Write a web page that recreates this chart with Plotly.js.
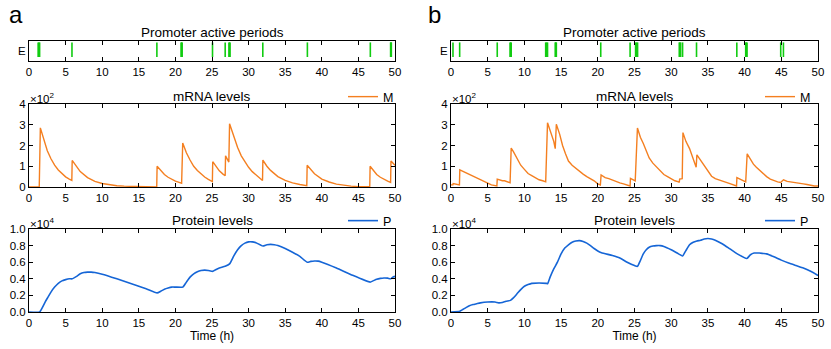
<!DOCTYPE html>
<html>
<head>
<meta charset="utf-8">
<script src="https://cdn.plot.ly/plotly-3.0.1.min.js"></script>
<style>
  html, body { margin: 0; padding: 0; background: #fff; }
  #plot { width: 831px; height: 349px; }
</style>
</head>
<body>
<div id="plot"></div>
<script>
  // --- promoter active periods (start, end of each burst, hours) ---
  const eventsA_start = [1.25, 5.87, 17.47, 20.78, 25.07, 26.8, 27.32, 31.94, 38.03, 46.63, 49.4];
  const eventsA_end   = [1.45, 5.87, 17.47, 20.92, 25.07, 26.8, 27.46, 31.94, 38.03, 46.63, 49.5];
  const eventsB_start = [0.27, 1.18, 6.3, 8.05, 12.9, 14.2, 20.4, 24.4, 25.15, 31.1, 31.55, 33.45, 38.94, 40.15, 44.92, 45.29];
  const eventsB_end   = [0.27, 1.18, 6.3, 8.2, 13.15, 14.35, 20.4, 24.4, 25.42, 31.28, 31.55, 33.45, 38.94, 40.33, 44.92, 45.29];

  // --- mRNA (x10^2) ---
  const tMA = [0, 1.4, 1.55, 2, 2.5, 3, 3.5, 4, 4.5, 5, 5.5, 5.85, 5.9, 6.5, 7, 8, 9, 10, 11, 12, 13, 15, 17.45,
    17.5, 18, 18.5, 19, 19.5, 20, 20.5, 20.85, 21.0, 21.5, 22, 22.5, 23, 23.5, 24, 24.5, 25.05,
    25.1, 25.5, 26, 26.5, 26.8, 26.85, 27.3, 27.4, 28, 28.5, 29, 29.5, 30, 30.5, 31, 31.5, 31.9,
    31.95, 32.5, 33, 34, 35, 36, 37, 37.95, 38.0, 38.5, 39, 40, 41, 42, 43, 44, 45, 46.55,
    46.6, 47, 47.5, 48, 48.5, 49, 49.4, 49.45, 50];
  const mA = [0, 0, 2.85, 2.3, 1.75, 1.36, 1.05, 0.82, 0.63, 0.49, 0.38, 0.32, 1.28, 0.95, 0.74, 0.45, 0.27, 0.17, 0.10, 0.06, 0.04, 0.01, 0,
    1.0, 0.78, 0.6, 0.47, 0.37, 0.28, 0.22, 0.18, 2.12, 1.65, 1.3, 1.0, 0.8, 0.62, 0.48, 0.37, 0.26,
    1.22, 1.0, 0.78, 0.62, 0.54, 1.5, 1.2, 3.05, 2.4, 1.9, 1.5, 1.2, 0.95, 0.74, 0.58, 0.42, 0.31,
    1.3, 1.0, 0.8, 0.5, 0.32, 0.2, 0.12, 0.06, 1.05, 0.82, 0.64, 0.38, 0.24, 0.14, 0.08, 0.04, 0.02, 0.01,
    1.0, 0.8, 0.6, 0.47, 0.36, 0.28, 0.22, 1.25, 1.05];

  const tMB = [0, 0.25, 0.3, 1.15, 1.2, 1.5, 2, 2.5, 3, 3.5, 4, 4.5, 5, 5.5, 6.25, 6.3, 7, 7.3, 8.05, 8.2, 8.5, 9, 9.5, 10,
    10.5, 11, 11.5, 12, 12.5, 12.9, 13.15, 13.5, 14, 14.2, 14.35, 14.8, 15.2, 15.6, 16, 16.5, 17, 17.5, 18, 18.5,
    19, 19.5, 20, 20.35, 20.45, 21, 21.5, 22, 22.5, 23, 23.5, 24, 24.4, 24.45, 25.1, 25.4, 25.8, 26.2, 26.6, 27,
    27.5, 28, 28.5, 29, 29.5, 30, 30.5, 31, 31.1, 31.15, 31.5, 31.6, 32, 32.5, 33, 33.4, 33.5, 34, 34.5, 35,
    35.5, 36, 36.5, 37, 37.5, 38, 38.5, 38.9, 38.95, 39.5, 40.15, 40.35, 40.8, 41.2, 41.6, 42, 42.5, 43, 43.5,
    44, 44.5, 44.9, 45.3, 45.8, 46.5, 47, 47.5, 48, 48.5, 49, 49.5, 50];
  const mB = [0.1, 0.1, 0.17, 0.1, 0.83, 0.78, 0.68, 0.6, 0.5, 0.42, 0.33, 0.26, 0.18, 0.1, 0.05, 0.38, 0.3, 0.3, 0.2, 1.88, 1.7, 1.35, 1.05, 0.85,
    0.65, 0.55, 0.45, 0.35, 0.3, 0.25, 3.1, 2.75, 2.2, 1.85, 3.02, 2.55, 2.0, 1.6, 1.25, 1.05, 0.9, 0.75, 0.62, 0.5,
    0.4, 0.3, 0.15, 0.1, 0.58, 0.45, 0.4, 0.33, 0.25, 0.2, 0.15, 0.08, 0.05, 0.42, 0.3, 2.84, 2.4, 2.1, 1.75, 1.4,
    1.15, 0.95, 0.75, 0.6, 0.5, 0.38, 0.3, 0.25, 0.22, 0.38, 0.4, 2.62, 2.2, 1.85, 1.35, 0.95, 1.55, 1.3, 1.0, 0.75,
    0.52, 0.4, 0.33, 0.28, 0.22, 0.16, 0.1, 0.05, 0.45, 0.35, 0.25, 1.6, 1.3, 1.1, 0.95, 0.82, 0.65, 0.5, 0.38,
    0.3, 0.25, 0.22, 0.35, 0.27, 0.22, 0.2, 0.18, 0.15, 0.12, 0.08, 0.05, 0.05];

  // --- protein (x10^4) ---
  const tPA = [0, 1.45, 1.8, 2.2, 2.6, 3, 3.5, 4, 4.5, 5, 5.5, 5.9, 6.5, 7, 7.5, 8, 8.5, 9, 10, 12, 14, 16, 17.5,
    18, 18.5, 19, 19.5, 20, 21, 21.5, 22, 22.5, 23, 23.5, 24, 24.5, 25.1, 25.5, 26, 26.8, 27.4, 28, 28.5, 29,
    29.5, 30, 30.5, 31, 31.95, 32.5, 33, 33.5, 34, 35, 36, 37, 38, 38.5, 39, 39.5, 40, 42, 44, 46.6, 47, 47.5,
    48, 48.5, 49, 49.4, 49.7, 50];
  const pA = [0, 0, 0.05, 0.12, 0.18, 0.24, 0.3, 0.345, 0.375, 0.39, 0.4, 0.4, 0.43, 0.46, 0.475, 0.48, 0.48, 0.475, 0.455, 0.4, 0.34, 0.28, 0.23,
    0.25, 0.275, 0.29, 0.3, 0.3, 0.3, 0.36, 0.42, 0.46, 0.485, 0.5, 0.505, 0.5, 0.49, 0.51, 0.53, 0.55, 0.58, 0.68, 0.75, 0.8,
    0.83, 0.845, 0.845, 0.835, 0.795, 0.81, 0.815, 0.81, 0.8, 0.765, 0.72, 0.67, 0.6, 0.61, 0.615, 0.613, 0.6, 0.53, 0.45, 0.36, 0.375, 0.395,
    0.405, 0.41, 0.408, 0.4, 0.42, 0.43];

  const tPB = [0, 1.2, 1.6, 2, 2.5, 3, 3.5, 4, 5, 6, 6.5, 7, 7.5, 8.1, 8.5, 9, 9.5, 10, 10.5, 11, 12, 13, 13.15, 13.5,
    14, 14.5, 15, 15.5, 16, 16.5, 17, 17.5, 18, 18.5, 19, 19.5, 20, 20.5, 22, 23, 24, 25, 25.4, 25.8, 26.2, 26.6,
    27, 27.5, 28, 28.5, 29, 30, 31, 31.55, 32, 32.5, 33, 33.5, 34, 34.5, 35, 35.5, 36, 37, 38, 39, 40.3, 40.8,
    41.3, 42, 42.5, 43, 44, 45, 46, 47, 48, 49, 50];
  const pB = [0, 0.01, 0.03, 0.05, 0.075, 0.09, 0.1, 0.11, 0.12, 0.12, 0.11, 0.115, 0.13, 0.14, 0.17, 0.22, 0.27, 0.31, 0.33, 0.345, 0.35, 0.345, 0.34, 0.42,
    0.52, 0.6, 0.7, 0.77, 0.81, 0.84, 0.855, 0.86, 0.85, 0.83, 0.8, 0.765, 0.735, 0.715, 0.68, 0.65, 0.6, 0.56, 0.55, 0.62, 0.7, 0.75,
    0.78, 0.795, 0.8, 0.8, 0.79, 0.75, 0.7, 0.675, 0.74, 0.81, 0.84, 0.855, 0.865, 0.88, 0.885, 0.88, 0.865, 0.82, 0.76, 0.7, 0.645, 0.69,
    0.71, 0.71, 0.705, 0.7, 0.665, 0.625, 0.59, 0.56, 0.53, 0.49, 0.44];

  const xTicks = [0, 5, 10, 15, 20, 25, 30, 35, 40, 45, 50];
  const mTicks = [0, 1, 2, 3, 4];
  const pTicks = [0, 0.2, 0.4, 0.6, 0.8, 1.0];

  const GREEN = '#11cc11', ORANGE = '#f47f20', BLUE = '#1565d6';
  const FONT = 'Liberation Sans, Arial, Helvetica, sans-serif';

  // vertical segments for each promoter burst (start and end edges)
  function eventLines(starts, ends) {
    const x = [], y = [];
    starts.forEach((s, i) => {
      x.push(s, s, null); y.push(0.2, 0.93, null);
      if (ends[i] !== s) {
        for (let k = 1; k <= 2; k++) {
          const e = s + (ends[i] - s) * k / 2;
          x.push(e, e, null); y.push(0.2, 0.93, null);
        }
      }
    });
    return {x, y};
  }
  const evA = eventLines(eventsA_start, eventsA_end);
  const evB = eventLines(eventsB_start, eventsB_end);

  const traces = [
    { x: evA.x, y: evA.y, xaxis: 'x', yaxis: 'y', mode: 'lines', line: {color: GREEN, width: 1.6}, showlegend: false },
    { x: tMA, y: mA, xaxis: 'x2', yaxis: 'y2', mode: 'lines', name: 'M', line: {color: ORANGE, width: 1.4}, legend: 'legend' },
    { x: tPA, y: pA, xaxis: 'x3', yaxis: 'y3', mode: 'lines', name: 'P', line: {color: BLUE, width: 1.6, shape: 'spline', smoothing: 0.5}, legend: 'legend2' },
    { x: evB.x, y: evB.y, xaxis: 'x4', yaxis: 'y4', mode: 'lines', line: {color: GREEN, width: 1.6}, showlegend: false },
    { x: tMB, y: mB, xaxis: 'x5', yaxis: 'y5', mode: 'lines', name: 'M', line: {color: ORANGE, width: 1.4}, legend: 'legend3' },
    { x: tPB, y: pB, xaxis: 'x6', yaxis: 'y6', mode: 'lines', name: 'P', line: {color: BLUE, width: 1.6, shape: 'spline', smoothing: 0.5}, legend: 'legend4' },
  ];

  const W = 831, H = 349;
  const colA = [29 / W, 395 / W], colB = [451 / W, 818 / W];
  const rowE = [1 - 61 / H, 1 - 41 / H], rowM = [1 - 187 / H, 1 - 104 / H], rowP = [1 - 312 / H, 1 - 229 / H];

  function xax(domain, anchor, title) {
    const a = {
      domain, anchor, range: [0, 50], tickvals: xTicks, ticks: 'inside', ticklen: 4, tickcolor: '#000',
      showline: true, linecolor: '#000', linewidth: 1, mirror: 'ticks', showgrid: false, zeroline: false,
      tickfont: {size: 11.5, color: '#000'}, fixedrange: true,
    };
    if (title) a.title = {text: title, font: {size: 12, color: '#000'}, standoff: 3};
    return a;
  }
  function yax(domain, anchor, range, vals, text) {
    return {
      domain, anchor, range, tickvals: vals, ticktext: text, ticks: text ? '' : 'inside', ticklen: 4, tickcolor: '#000',
      showline: true, linecolor: '#000', linewidth: 1, mirror: text ? true : 'ticks', showgrid: false, zeroline: false,
      tickfont: {size: 11.5, color: '#000'}, fixedrange: true,
    };
  }
  const pLabels = pTicks.map(v => v.toFixed(1));

  function title(text, col, yPx) {
    return { text, x: (col[0] + col[1]) / 2, y: 1 - yPx / H, xref: 'paper', yref: 'paper', showarrow: false,
      font: {size: 13.5, color: '#000'}, xanchor: 'center', yanchor: 'middle' };
  }
  function expo(text, xPx, yPx) {
    return { text, x: xPx / W, y: 1 - yPx / H, xref: 'paper', yref: 'paper', showarrow: false,
      font: {size: 11.5, color: '#000'}, xanchor: 'left', yanchor: 'middle' };
  }
  function leg(xPx, yPx) {
    return { x: xPx / W, y: 1 - yPx / H, xanchor: 'left', yanchor: 'middle', bgcolor: 'rgba(0,0,0,0)',
      font: {size: 12.5, color: '#000'}, borderwidth: 0 };
  }

  const layout = {
    width: W, height: H, margin: {l: 0, r: 0, t: 0, b: 0},
    paper_bgcolor: '#fff', plot_bgcolor: '#fff',
    font: {family: FONT, color: '#000'},
    xaxis: xax(colA, 'y'), yaxis: yax(rowE, 'x', [0, 1], [0.5], ['E']),
    xaxis2: xax(colA, 'y2'), yaxis2: yax(rowM, 'x2', [0, 4], mTicks),
    xaxis3: xax(colA, 'y3', 'Time (h)'), yaxis3: yax(rowP, 'x3', [0, 1], pTicks, null),
    xaxis4: xax(colB, 'y4'), yaxis4: yax(rowE, 'x4', [0, 1], [0.5], ['E']),
    xaxis5: xax(colB, 'y5'), yaxis5: yax(rowM, 'x5', [0, 4], mTicks),
    xaxis6: xax(colB, 'y6', 'Time (h)'), yaxis6: yax(rowP, 'x6', [0, 1], pTicks, null),
    legend: leg(343, 97), legend2: leg(343, 221), legend3: leg(760, 97), legend4: leg(760, 221),
    annotations: [
      { text: 'a', x: 7 / W, y: 1 - 14 / H, xref: 'paper', yref: 'paper', showarrow: false, font: {size: 24, color: '#000'}, xanchor: 'left', yanchor: 'middle' },
      { text: 'b', x: 426 / W, y: 1 - 14 / H, xref: 'paper', yref: 'paper', showarrow: false, font: {size: 24, color: '#000'}, xanchor: 'left', yanchor: 'middle' },
      title('Promoter active periods', colA, 32), title('mRNA levels', colA, 96), title('Protein levels', colA, 221),
      title('Promoter active periods', colB, 32), title('mRNA levels', colB, 96), title('Protein levels', colB, 221),
      expo('×10<sup>2</sup>', 28, 98), expo('×10<sup>4</sup>', 28, 223),
      expo('×10<sup>2</sup>', 450, 98), expo('×10<sup>4</sup>', 450, 223),
    ],
  };
  layout.yaxis3.ticktext = pLabels; layout.yaxis6.ticktext = pLabels;
  layout.yaxis3.ticks = 'inside'; layout.yaxis6.ticks = 'inside';
  layout.yaxis3.mirror = 'ticks'; layout.yaxis6.mirror = 'ticks';

  Plotly.newPlot('plot', traces, layout, {displayModeBar: false, staticPlot: true});
</script>
</body>
</html>
